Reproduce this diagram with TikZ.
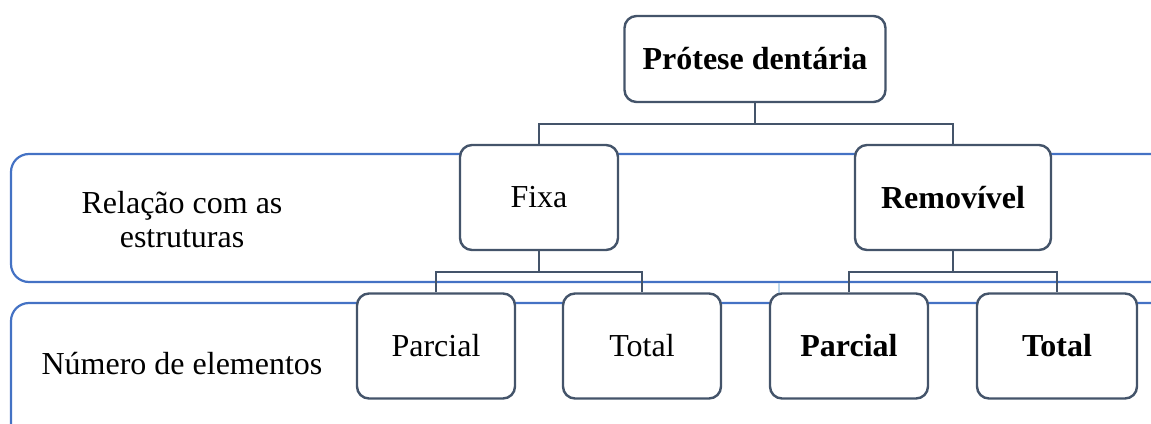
\documentclass[tikz,border=0pt]{standalone}
\usepackage{fontspec}
\setmainfont{Liberation Serif}
\usepackage{tikz}
\usetikzlibrary{positioning,calc}
\definecolor{slate}{HTML}{44546A}
\definecolor{bandblue}{HTML}{4472C4}
\definecolor{tickblue}{HTML}{BDD7EE}
\tikzset{
    box/.style={draw=slate, fill=white, line width=2.4pt, rounded corners=12pt, align=center, inner sep=0pt},
    band/.style={draw=bandblue, line width=2.2pt, rounded corners=18pt},
    conn/.style={draw=slate, line width=2.4pt},
    lab/.style={align=center, inner sep=0pt}
}

\begin{document}
\begin{tikzpicture}[x=1pt, y=-1pt, font=\fontsize{32}{34}\selectfont]
    \useasboundingbox (0,0) rectangle (1151,423);
    % the two bands behind the tree
    \draw[band] (1175,154) -- (11,154) -- (11,282) -- (1175,282);
    \draw[band] (1175,303) -- (11,303) -- (11,450);
    \draw[tickblue, line width=1.5pt] (779,283) -- (779,300);
    \node[lab] (rel) at (182,220) {Relação com as\\estruturas};
    \node[lab] (num) at (182,364) {Número de elementos};

    % tree
    \node[box, minimum width=261pt, minimum height=86pt] (protese) at (755,59) {\textbf{Prótese dentária}};
    \node[box, minimum width=158pt, minimum height=105pt] (fixa) at (539,197.5) {Fixa};
    \node[box, minimum width=196pt, minimum height=105pt] (remov) at (953,197.5) {\textbf{Removível}};
    \node[box, minimum width=158pt, minimum height=105pt] (fparc) at (436,346) {Parcial};
    \node[box, minimum width=158pt, minimum height=105pt] (ftot) at (642,346) {Total};
    \node[box, minimum width=158pt, minimum height=105pt] (rparc) at (849,346) {\textbf{Parcial}};
    \node[box, minimum width=160pt, minimum height=105pt] (rtot) at (1057,346) {\textbf{Total}};

    \foreach \a/\b in {protese/fixa, protese/remov, fixa/fparc, fixa/ftot, remov/rparc, remov/rtot} {
        \draw[conn] (\a.south) -- ++(0,21) -| (\b.north); % elbow connector
    }
\end{tikzpicture}
\end{document}
